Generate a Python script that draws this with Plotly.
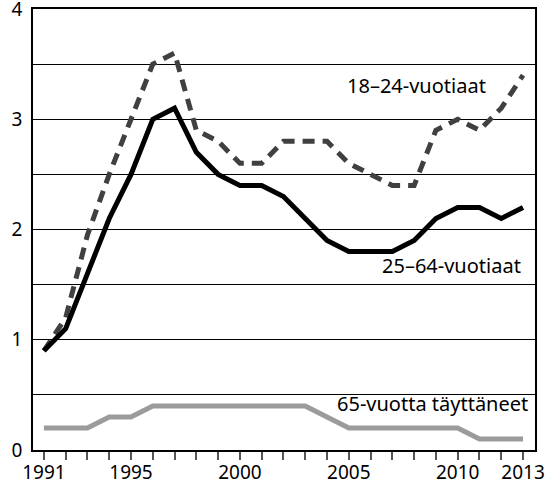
import plotly.graph_objects as go

years = list(range(1991, 2014))
age_25_64 = [0.9, 1.1, 1.6, 2.1, 2.5, 3.0, 3.1, 2.7, 2.5, 2.4, 2.4, 2.3, 2.1, 1.9, 1.8, 1.8, 1.8, 1.9, 2.1, 2.2, 2.2, 2.1, 2.2]
age_18_24 = [0.9, 1.2, 1.95, 2.5, 3.0, 3.5, 3.6, 2.9, 2.8, 2.6, 2.6, 2.8, 2.8, 2.8, 2.6, 2.5, 2.4, 2.4, 2.9, 3.0, 2.9, 3.1, 3.4]
age_65 = [0.2, 0.2, 0.2, 0.3, 0.3, 0.4, 0.4, 0.4, 0.4, 0.4, 0.4, 0.4, 0.4, 0.3, 0.2, 0.2, 0.2, 0.2, 0.2, 0.2, 0.1, 0.1, 0.1]
x_labels = {1991: "1991", 1995: "1995", 2000: "2000", 2005: "2005", 2010: "2010", 2013: "2013"}
y_vals = [0, 0.5, 1, 1.5, 2, 2.5, 3, 3.5, 4]
y_text = ["0", "", "1", "", "2", "", "3", "", "4"]

FONT = "Noto Sans"

fig = go.Figure()
fig.add_trace(go.Scatter(x=years, y=age_65, mode="lines",
                         line=dict(color="#9b9b9b", width=5), showlegend=False))
fig.add_trace(go.Scatter(x=years, y=age_18_24, mode="lines",
                         line=dict(color="#404040", width=5, dash="12px,8px"), showlegend=False))
fig.add_trace(go.Scatter(x=years, y=age_25_64, mode="lines",
                         line=dict(color="#000000", width=5), showlegend=False))

fig.add_annotation(x=2011.4, y=3.31, text="18–24-vuotiaat", showarrow=False,
                   xanchor="right", yanchor="middle", font=dict(size=20, color="#000", family=FONT))
fig.add_annotation(x=2013.0, y=1.67, text="25–64-vuotiaat", showarrow=False,
                   xanchor="right", yanchor="middle", font=dict(size=20, color="#000", family=FONT))
fig.add_annotation(x=2013.3, y=0.42, text="65-vuotta täyttäneet", showarrow=False,
                   xanchor="right", yanchor="middle", font=dict(size=20, color="#000", family=FONT))

fig.update_layout(
    width=558, height=483,
    margin=dict(l=33, r=23, t=9, b=33, autoexpand=False),
    plot_bgcolor="white", paper_bgcolor="white",
    font=dict(family=FONT, size=19, color="#000"),
)
fig.update_xaxes(
    range=[1990.5, 2013.55], automargin=False,
    tickmode="array", tickvals=years,
    ticktext=[x_labels.get(y, "") for y in years],
    ticks="outside", ticklen=8, tickwidth=1.5, tickcolor="#555",
    showgrid=False, zeroline=False,
    showline=True, linecolor="#000", linewidth=1.5, mirror=True,
    tickfont=dict(size=19, family=FONT),
    ticklabeloverflow="allow", ticklabelstandoff=-4,
)
fig.update_yaxes(
    range=[0, 4], automargin=False,
    tickmode="array", tickvals=y_vals, ticktext=y_text,
    ticks="", showgrid=True, gridcolor="#000", gridwidth=1,
    zeroline=False,
    showline=True, linecolor="#000", linewidth=1.5, mirror=True,
    tickfont=dict(size=19, family=FONT),
    ticklabeloverflow="allow", ticklabelstandoff=5,
)

fig.write_html("out.html", config={"displayModeBar": False},
               post_script="document.body.style.margin='0';")
